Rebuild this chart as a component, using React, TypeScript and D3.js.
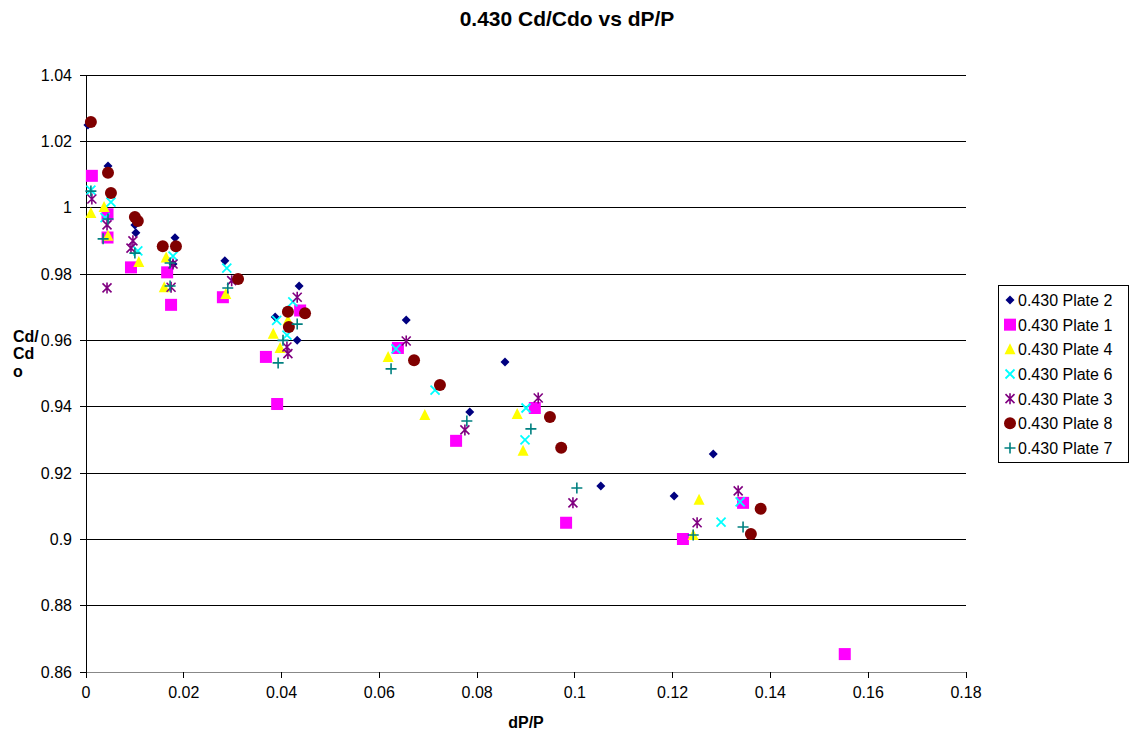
import React from "react";
import * as d3 from "d3";

// Cd/Cdo against dP/P for each plate of the 0.430 series
const plate2X = [0.0004, 0.0045, 0.0100, 0.0102, 0.0182, 0.0178, 0.0284, 0.0436, 0.0387, 0.0432, 0.0655, 0.0857, 0.0785, 0.1053, 0.1283, 0.1203];
const plate2Y = [1.0249, 1.0126, 0.9948, 0.9924, 0.9909, 0.9830, 0.9840, 0.9764, 0.9670, 0.9600, 0.9661, 0.9535, 0.9384, 0.9161, 0.9257, 0.9131];

const plate1X = [0.0012, 0.0044, 0.0044, 0.0092, 0.0166, 0.0174, 0.0280, 0.0368, 0.0438, 0.0391, 0.0638, 0.0757, 0.0918, 0.0982, 0.1221, 0.1344, 0.1552];
const plate1Y = [1.0096, 0.9980, 0.9910, 0.9820, 0.9805, 0.9707, 0.9730, 0.9550, 0.9690, 0.9408, 0.9577, 0.9297, 0.9396, 0.9050, 0.9001, 0.9110, 0.8654];

const plate4X = [0.0010, 0.0037, 0.0045, 0.0108, 0.0164, 0.0160, 0.0286, 0.0383, 0.0397, 0.0413, 0.0618, 0.0693, 0.0882, 0.0894, 0.1254, 0.1242];
const plate4Y = [0.9984, 1.0002, 0.9915, 0.9836, 0.9850, 0.9760, 0.9740, 0.9620, 0.9577, 0.9660, 0.9550, 0.9375, 0.9378, 0.9267, 0.9119, 0.9013];

const plate6X = [0.0010, 0.0051, 0.0039, 0.0106, 0.0178, 0.0288, 0.0423, 0.0390, 0.0411, 0.0634, 0.0714, 0.0900, 0.0898, 0.1299, 0.1338];
const plate6Y = [1.0053, 1.0017, 0.9970, 0.9870, 0.9854, 0.9818, 0.9716, 0.9660, 0.9616, 0.9574, 0.9450, 0.9396, 0.9300, 0.9052, 0.9113];

const plate3X = [0.0012, 0.0043, 0.0043, 0.0096, 0.0092, 0.0178, 0.0174, 0.0298, 0.0432, 0.0411, 0.0413, 0.0655, 0.0775, 0.0925, 0.0996, 0.1250, 0.1334];
const plate3Y = [1.0026, 0.9948, 0.9758, 0.9900, 0.9878, 0.9830, 0.9760, 0.9780, 0.9730, 0.9580, 0.9560, 0.9598, 0.9330, 0.9426, 0.9110, 0.9050, 0.9146];

const plate8X = [0.0010, 0.0045, 0.0051, 0.0100, 0.0106, 0.0157, 0.0184, 0.0311, 0.0413, 0.0448, 0.0415, 0.0671, 0.0724, 0.0949, 0.0972, 0.1380, 0.1360];
const plate8Y = [1.0258, 1.0105, 1.0044, 0.9972, 0.9960, 0.9884, 0.9884, 0.9785, 0.9686, 0.9682, 0.9640, 0.9540, 0.9465, 0.9369, 0.9276, 0.9092, 0.9016];

const plate7X = [0.0010, 0.0035, 0.0045, 0.0100, 0.0172, 0.0172, 0.0290, 0.0432, 0.0393, 0.0403, 0.0624, 0.0779, 0.0910, 0.1004, 0.1242, 0.1344];
const plate7Y = [1.0050, 0.9906, 0.9966, 0.9863, 0.9833, 0.9764, 0.9758, 0.9649, 0.9532, 0.9600, 0.9514, 0.9357, 0.9333, 0.9155, 0.9013, 0.9037];

const xTicks = [0, 0.02, 0.04, 0.06, 0.08, 0.1, 0.12, 0.14, 0.16, 0.18];
const yTicks = [0.86, 0.88, 0.9, 0.92, 0.94, 0.96, 0.98, 1, 1.02, 1.04];

type Shape = "diamond" | "square" | "triangle" | "x" | "star" | "circle" | "plus";

const series: { name: string; xs: number[]; ys: number[]; shape: Shape; color: string }[] = [
  { name: "0.430 Plate 2", xs: plate2X, ys: plate2Y, shape: "diamond", color: "#000080" },
  { name: "0.430 Plate 1", xs: plate1X, ys: plate1Y, shape: "square", color: "#FF00FF" },
  { name: "0.430 Plate 4", xs: plate4X, ys: plate4Y, shape: "triangle", color: "#FFFF00" },
  { name: "0.430 Plate 6", xs: plate6X, ys: plate6Y, shape: "x", color: "#00FFFF" },
  { name: "0.430 Plate 3", xs: plate3X, ys: plate3Y, shape: "star", color: "#800080" },
  { name: "0.430 Plate 8", xs: plate8X, ys: plate8Y, shape: "circle", color: "#800000" },
  { name: "0.430 Plate 7", xs: plate7X, ys: plate7Y, shape: "plus", color: "#008080" },
];

const FONT = "'Liberation Sans', Arial, sans-serif";

function Marker({ shape, color, cx, cy }: { shape: Shape; color: string; cx: number; cy: number }) {
  switch (shape) {
    case "diamond":
      return <path d={`M${cx},${cy - 4.5}L${cx + 4.5},${cy}L${cx},${cy + 4.5}L${cx - 4.5},${cy}Z`} fill={color} />;
    case "square":
      return <rect x={cx - 6} y={cy - 6} width={12} height={12} fill={color} />;
    case "triangle":
      return <path d={`M${cx},${cy - 6}L${cx + 5.5},${cy + 5}L${cx - 5.5},${cy + 5}Z`} fill={color} />;
    case "circle":
      return <circle cx={cx} cy={cy} r={6} fill={color} />;
    case "x":
      return (
        <path d={`M${cx - 4.5},${cy - 4.5}L${cx + 4.5},${cy + 4.5}M${cx + 4.5},${cy - 4.5}L${cx - 4.5},${cy + 4.5}`} stroke={color} strokeWidth={1.8} />
      );
    case "star":
      return (
        <path
          d={`M${cx - 4.5},${cy - 4.5}L${cx + 4.5},${cy + 4.5}M${cx + 4.5},${cy - 4.5}L${cx - 4.5},${cy + 4.5}M${cx},${cy - 5.5}L${cx},${cy + 5.5}`}
          stroke={color}
          strokeWidth={1.6}
        />
      );
    case "plus":
      return <path d={`M${cx - 5.5},${cy}L${cx + 5.5},${cy}M${cx},${cy - 5.5}L${cx},${cy + 5.5}`} stroke={color} strokeWidth={1.6} />;
  }
}

export default function App() {
  const width = 1131;
  const height = 740;
  const left = 86, right = 966, top = 75, bottom = 672;

  const x = d3.scaleLinear().domain([0, 0.18]).range([left, right]);
  const y = d3.scaleLinear().domain([0.86, 1.04]).range([bottom, top]);

  const legendX = 998, legendY = 285, legendW = 130, legendH = 177, rowH = 24.67;

  return (
    <svg width={width} height={height} style={{ position: "absolute", left: 0, top: 0, background: "#fff" }}>
      <rect width={width} height={height} fill="#fff" />
      <text x={567} y={26} textAnchor="middle" fontFamily={FONT} fontWeight="bold" fontSize={21}>
        0.430 Cd/Cdo vs dP/P
      </text>

      {/* gridlines */}
      {yTicks.map((t) => (
        <line key={`g${t}`} x1={left} x2={right} y1={y(t)} y2={y(t)} stroke="#000" strokeWidth={1} shapeRendering="crispEdges" />
      ))}

      {/* axes */}
      <line x1={left} x2={left} y1={top} y2={bottom} stroke="#000" shapeRendering="crispEdges" />
      <line x1={left} x2={right} y1={bottom} y2={bottom} stroke="#888" shapeRendering="crispEdges" />
      {yTicks.map((t) => (
        <g key={`yt${t}`}>
          <line x1={left - 6} x2={left} y1={y(t)} y2={y(t)} stroke="#000" shapeRendering="crispEdges" />
          <text x={left - 14} y={y(t) + 5.5} textAnchor="end" fontFamily={FONT} fontSize={16}>
            {+t.toFixed(2)}
          </text>
        </g>
      ))}
      {xTicks.map((t) => (
        <g key={`xt${t}`}>
          <line x1={x(t)} x2={x(t)} y1={bottom} y2={bottom + 6} stroke="#000" shapeRendering="crispEdges" />
          <text x={x(t)} y={bottom + 26} textAnchor="middle" fontFamily={FONT} fontSize={16}>
            {+t.toFixed(2)}
          </text>
        </g>
      ))}

      <text x={526} y={728} textAnchor="middle" fontFamily={FONT} fontWeight="bold" fontSize={16}>
        dP/P
      </text>
      <text fontFamily={FONT} fontWeight="bold" fontSize={16}>
        <tspan x={13} y={342}>Cd/</tspan>
        <tspan x={13} y={359}>Cd</tspan>
        <tspan x={13} y={377}>o</tspan>
      </text>

      {/* points */}
      {series.map((s) => (
        <g key={s.name}>
          {s.xs.map((v, i) => (
            <Marker key={i} shape={s.shape} color={s.color} cx={x(v)} cy={y(s.ys[i])} />
          ))}
        </g>
      ))}

      {/* legend */}
      <rect x={legendX} y={legendY} width={legendW} height={legendH} fill="#fff" stroke="#000" shapeRendering="crispEdges" />
      {series.map((s, i) => {
        const cy = legendY + 15 + i * rowH;
        return (
          <g key={`l${s.name}`}>
            <Marker shape={s.shape} color={s.color} cx={1010} cy={cy} />
            <text x={1018} y={cy + 6} fontFamily={FONT} fontSize={16}>
              {s.name}
            </text>
          </g>
        );
      })}
    </svg>
  );
}
